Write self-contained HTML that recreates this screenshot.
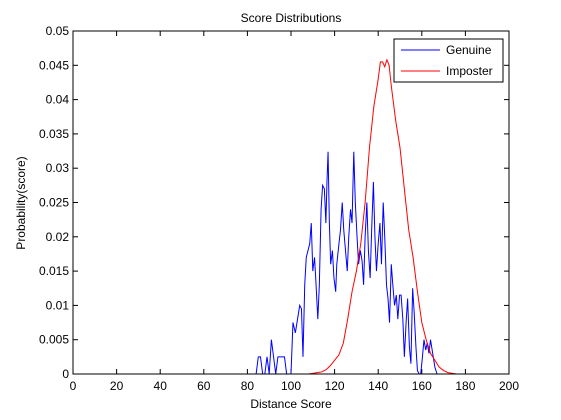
<!DOCTYPE html>
<html><head><meta charset="utf-8"><style>
body{margin:0;background:#fff}
svg{display:block;font-family:"Liberation Sans",Arial,sans-serif;font-size:12px}
</style></head><body>
<svg id="chart" width="561" height="420">
<rect x="0" y="0" width="561" height="420" fill="#fff"/>
<text x="291" y="22" text-anchor="middle">Score Distributions</text>
<text x="291" y="408" text-anchor="middle">Distance Score</text>
<text transform="translate(25,203) rotate(-90)" text-anchor="middle">Probability(score)</text>
<g id="axes"></g>
<g id="series"></g>
<rect x="73" y="31" width="436" height="343" fill="none" stroke="#000"/>
<g>
<rect x="394" y="39" width="109" height="43" fill="#fff" stroke="#000"/>
<line x1="401" y1="50" x2="440" y2="50" stroke="#0000ff"/>
<text x="446" y="54">Genuine</text>
<line x1="401" y1="71" x2="440" y2="71" stroke="#ff0000"/>
<text x="446" y="75">Imposter</text>
</g>
</svg>
<script>
const xTicks=[0,20,40,60,80,100,120,140,160,180,200];
const yTicks=[0,0.005,0.01,0.015,0.02,0.025,0.03,0.035,0.04,0.045,0.05];
const yTickLabels=["0","0.005","0.01","0.015","0.02","0.025","0.03","0.035","0.04","0.045","0.05"];
const genuineX=[84,85,86,87,88,89,90,91,92,93,94,95,96,97,98,99,100,100.9,102,103,104,104.8,105.5,106.3,107,108.6,109.3,110,110.8,111.5,112.3,113,113.8,114.5,115.3,116,116.5,117,117.6,118.2,119,119.7,120.5,121,122,122.7,123.5,124.2,125,125.8,126.5,127.3,128,128.8,129.5,130.3,131,131.8,132.6,133.3,134,134.8,135.5,136.3,137,137.8,138.5,139.2,140,140.8,141.5,142.3,143,143.8,144.5,145.2,146,146.7,147.5,148.3,149,149.8,150.5,151.3,152,152.8,153.5,154.3,155,155.8,156.5,157.3,158,158.8,159.5,160.3,161,161.8,162.5,163.3,164,165,166,167];
const genuineY=[0,0.0025,0.0025,0,0,0.0025,0,0.005,0.0025,0,0.0025,0.0025,0.0025,0.0025,0,0,0,0.0075,0.006,0.008,0.01,0.0095,0.0025,0.013,0.017,0.019,0.022,0.015,0.017,0.013,0.008,0.013,0.024,0.0275,0.027,0.022,0.028,0.0324,0.022,0.016,0.018,0.014,0.012,0.016,0.019,0.021,0.025,0.021,0.018,0.015,0.02,0.024,0.022,0.0324,0.025,0.02,0.016,0.018,0.0165,0.013,0.02,0.025,0.018,0.014,0.021,0.028,0.02,0.015,0.019,0.022,0.016,0.025,0.02,0.013,0.011,0.0075,0.016,0.013,0.01,0.0115,0.008,0.0115,0.0115,0.008,0.0025,0.0075,0.011,0.004,0.0015,0.0125,0.009,0.004,0.0005,0,0,0.0025,0.005,0.0035,0.0045,0.003,0.005,0.003,0.001,0];
const imposterX=[100,102,104,106,108,110,112,114,116,118,120,122,124,126,128,130,132,134,136,138,140,141,142,143,144,145,146,148,150,152,154,156,158,160,162,164,166,168,170,172,174,176,180];
const imposterY=[0,0,0,0,0,0.0001,0.0002,0.0003,0.0006,0.0012,0.002,0.0028,0.0045,0.008,0.012,0.015,0.019,0.025,0.033,0.039,0.043,0.0455,0.0455,0.0448,0.0458,0.045,0.042,0.037,0.033,0.027,0.021,0.017,0.012,0.0075,0.005,0.003,0.002,0.001,0.0005,0.0002,0.0001,0,0];
const L=73,R=509,T=31,B=374;
const sx=v=>L+(v-0)/200*(R-L);
const sy=v=>B-(v/0.05)*(B-T);
const NS="http://www.w3.org/2000/svg";
const axes=document.getElementById('axes');
function mk(tag,attrs,parent){const e=document.createElementNS(NS,tag);for(const k in attrs)e.setAttribute(k,attrs[k]);parent.appendChild(e);return e;}
xTicks.forEach(v=>{
  const x=sx(v);
  mk('line',{x1:x,y1:B,x2:x,y2:B-5,stroke:'#000'},axes);
  mk('line',{x1:x,y1:T,x2:x,y2:T+5,stroke:'#000'},axes);
  const t=mk('text',{x:x,y:B+16,'text-anchor':'middle'},axes);
  
  
  t.textContent=v;
});
yTicks.forEach((v,i)=>{
  const y=sy(v);
  mk('line',{x1:L,y1:y,x2:L+5,y2:y,stroke:'#000'},axes);
  mk('line',{x1:R,y1:y,x2:R-5,y2:y,stroke:'#000'},axes);
  const t=mk('text',{x:L-4,y:y+4,'text-anchor':'end'},axes);
  
  
  t.textContent=yTickLabels[i];
});
const series=document.getElementById('series');
const g=mk('polyline',{points:genuineX.map((x,i)=>sx(x)+','+sy(genuineY[i])).join(' '),fill:'none',stroke:'#0000ff','stroke-width':1},series);


const im=mk('polyline',{points:imposterX.map((x,i)=>sx(x)+','+sy(imposterY[i])).join(' '),fill:'none',stroke:'#ff0000','stroke-width':1},series);


</script>
</body></html>
